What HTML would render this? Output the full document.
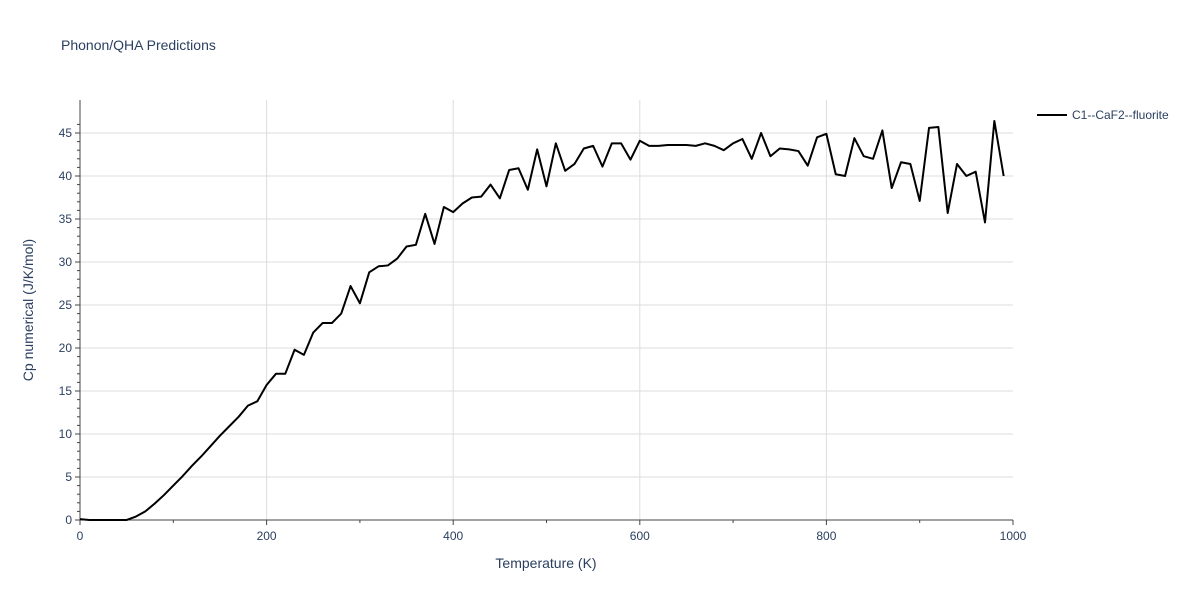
<!DOCTYPE html>
<html><head><meta charset="utf-8"><style>
body{margin:0;background:#fff;font-family:"Liberation Sans",sans-serif}
text{font-family:"Liberation Sans",sans-serif}
</style></head><body>
<svg id="chart" width="1200" height="600" xmlns="http://www.w3.org/2000/svg">
<rect width="1200" height="600" fill="#fff"/>
<text x="61" y="50" font-size="14" fill="#2a3f5f">Phonon/QHA Predictions</text>
<g id="grid"></g><g id="axes"></g>
<polyline id="line" fill="none" stroke="#000" stroke-width="2" stroke-linejoin="round"/>
<text x="546" y="568" font-size="14" fill="#2a3f5f" text-anchor="middle">Temperature (K)</text>
<text transform="translate(33,310) rotate(-90)" font-size="14" fill="#2a3f5f" text-anchor="middle">Cp numerical (J/K/mol)</text>
<g>
<line x1="1037" y1="115" x2="1067" y2="115" stroke="#000" stroke-width="2"/>
<text x="1072" y="119" font-size="12" fill="#2a3f5f">C1--CaF2--fluorite</text></g>
</svg>
<script>
const temps=[0,10,20,30,40,50,60,70,80,90,100,110,120,130,140,150,160,170,180,190,200,210,220,230,240,250,260,270,280,290,300,310,320,330,340,350,360,370,380,390,400,410,420,430,440,450,460,470,480,490,500,510,520,530,540,550,560,570,580,590,600,610,620,630,640,650,660,670,680,690,700,710,720,730,740,750,760,770,780,790,800,810,820,830,840,850,860,870,880,890,900,910,920,930,940,950,960,970,980,990];
const cpValues=[0.1,0,0,0,0,0,0.4,1.0,1.9,2.9,4.0,5.1,6.3,7.4,8.6,9.8,10.9,12.0,13.3,13.8,15.7,17.0,17.0,19.8,19.2,21.8,22.9,22.9,24.0,27.2,25.2,28.8,29.5,29.6,30.4,31.8,32.0,35.6,32.1,36.4,35.8,36.8,37.5,37.6,39.0,37.4,40.7,40.9,38.4,43.1,38.8,43.8,40.6,41.4,43.2,43.5,41.1,43.8,43.8,41.9,44.1,43.5,43.5,43.6,43.6,43.6,43.5,43.8,43.5,43.0,43.8,44.3,42.0,45.0,42.3,43.2,43.1,42.9,41.2,44.5,44.9,40.2,40.0,44.4,42.3,42.0,45.3,38.6,41.6,41.4,37.1,45.6,45.7,35.7,41.4,40.0,40.5,34.6,46.4,40.0];
const xTicks=[0,200,400,600,800,1000];
const yTicks=[0,5,10,15,20,25,30,35,40,45];
const X=v=>80+v*0.933, Y=v=>520-v*8.6;
const ns="http://www.w3.org/2000/svg";
const grid=document.getElementById('grid'),axes=document.getElementById('axes');
function mk(p,tag,a){const e=document.createElementNS(ns,tag);for(const k in a)e.setAttribute(k,a[k]);p.appendChild(e);return e;}
yTicks.forEach(t=>{
 const l=mk(grid,'line',{x1:80,x2:1013,y1:Y(t),y2:Y(t),stroke:'#ddd','stroke-width':1});
 
 
 const tx=mk(axes,'text',{x:72,y:Y(t)+4,'font-size':12,fill:'#2a3f5f','text-anchor':'end'});tx.textContent=t;
 
 
 mk(axes,'line',{x1:75,x2:80,y1:Y(t),y2:Y(t),stroke:'#444'});
});
for(let m=1;m<47;m++){if(m%5)mk(axes,'line',{x1:77,x2:80,y1:Y(m),y2:Y(m),stroke:'#444'});}
xTicks.forEach(t=>{
 if(t>0&&t<1000){const g=mk(grid,'line',{x1:X(t),x2:X(t),y1:100,y2:520,stroke:'#ddd','stroke-width':1});
 
 }
 const tx=mk(axes,'text',{x:X(t),y:540,'font-size':12,fill:'#2a3f5f','text-anchor':'middle'});tx.textContent=t;
 
 
 mk(axes,'line',{x1:X(t),x2:X(t),y1:520,y2:525,stroke:'#444'});
});
for(let m=100;m<1000;m+=200)mk(axes,'line',{x1:X(m),x2:X(m),y1:520,y2:523,stroke:'#444'});
mk(axes,'line',{x1:80,x2:1013,y1:520,y2:520,stroke:'#444'});
mk(axes,'line',{x1:80,x2:80,y1:100,y2:520,stroke:'#444'});
document.getElementById('line').setAttribute('points',temps.map((t,i)=>X(t)+','+Y(cpValues[i])).join(' '));
</script>
</body></html>
